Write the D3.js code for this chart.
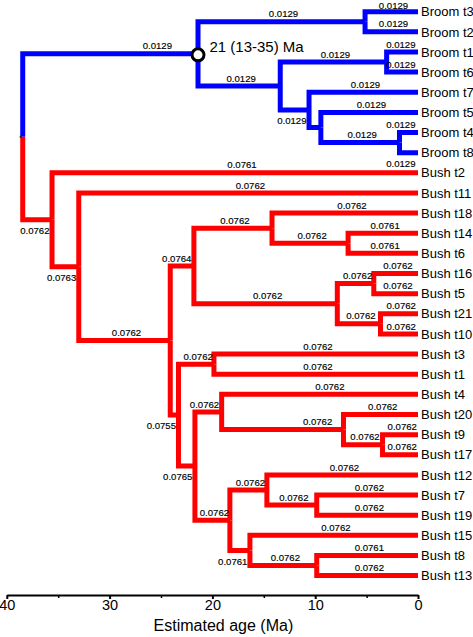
<!DOCTYPE html>
<html>
<head>
<meta charset="utf-8">
<script src="https://cdn.jsdelivr.net/npm/d3@7/dist/d3.min.js"></script>
<style>
  html, body { margin: 0; padding: 0; background: #fff; }
  svg { display: block; font-family: "Liberation Sans", Arial, Helvetica, sans-serif; }
</style>
</head>
<body>
<svg id="chart" width="473" height="637"></svg>
<script>
// ---------------- DATA ----------------
const leafNames = ["Broom t3","Broom t2","Broom t1","Broom t6","Broom t7","Broom t5","Broom t4","Broom t8",
  "Bush t2","Bush t11","Bush t18","Bush t14","Bush t6","Bush t16","Bush t5","Bush t21","Bush t10",
  "Bush t3","Bush t1","Bush t4","Bush t20","Bush t9","Bush t17","Bush t12","Bush t7","Bush t19",
  "Bush t15","Bush t8","Bush t13"];
const leafParents = ["br_t3t2","br_t3t2","br_t1t6","br_t1t6","br_t7x","br_t5x","br_t4t8","br_t4t8",
  "bush","bu_A","bu_C1","bu_C1a","bu_C1a","bu_C2a","bu_C2a","bu_C2b","bu_C2b",
  "bu_D1","bu_D1","bu_E1","bu_E1a","bu_E1b","bu_E1b","bu_E2a","bu_E2a1","bu_E2a1",
  "bu_E2b","bu_E2b1","bu_E2b1"];
const leafRates = ["0.0129","0.0129","0.0129","0.0129","0.0129","0.0129","0.0129","0.0129",
  "0.0761","0.0762","0.0762","0.0761","0.0761","0.0762","0.0762","0.0762","0.0762",
  "0.0762","0.0762","0.0762","0.0762","0.0762","0.0762","0.0762","0.0762","0.0762",
  "0.0762","0.0761","0.0762"];

const nodeIds = ["root","broom","br_t3t2","br_in","br_t1t6","br_t7x","br_t5x","br_t4t8",
  "bush","bu_A","bu_B","bu_C","bu_C1","bu_C1a","bu_C2","bu_C2a","bu_C2b",
  "bu_D","bu_D1","bu_E","bu_E1","bu_E1a","bu_E1b","bu_E2","bu_E2a","bu_E2a1","bu_E2b","bu_E2b1"];
const nodeParents = [null,"root","broom","broom","br_in","br_in","br_t7x","br_t5x",
  "root","bush","bu_A","bu_B","bu_C","bu_C1","bu_C","bu_C2","bu_C2",
  "bu_B","bu_D","bu_D","bu_E","bu_E1","bu_E1a","bu_E","bu_E2","bu_E2a","bu_E2","bu_E2b"];
const nodeAges = [38.45,21.4,5.15,13.4,3.05,10.6,9.45,1.8,
  35.6,33.0,24.1,21.8,14.2,6.8,7.85,4.3,3.65,
  23.3,19.85,21.7,19.1,7.25,3.45,18.3,14.7,9.85,16.35,9.85];
const nodeRates = [null,"0.0129","0.0129","0.0129","0.0129","0.0129",null,"0.0129",
  "0.0762","0.0763","0.0762","0.0764","0.0762","0.0762","0.0762","0.0762","0.0762",
  "0.0755","0.0762","0.0765","0.0762","0.0762","0.0762","0.0762","0.0762","0.0762","0.0761","0.0762"];

const cladeRoots = ["broom","bush"];
const cladeColors = ["#0000ff","#ff0000"];
const calibratedNode = "broom";
const calibratedLabel = "21 (13-35) Ma";

const axisMajor = [40,30,20,10,0];
const axisMinor = [35,25,15,5];
const axisTitle = "Estimated age (Ma)";

// label placement style (not data)
const labelsBelow = new Set(["br_t7x","Broom t8","bush","bu_A","bu_D","bu_E","bu_E2b"]);
const labelNudge = {"broom": 45, "bu_E1a": 33, "Bush t4": 8, "Bush t2": 5, "Bush t18": 5};

// ---------------- BUILD TREE ----------------
const nodes = new Map();
nodeIds.forEach((id, i) => nodes.set(id, {id, parent: nodeParents[i], age: nodeAges[i], rate: nodeRates[i], children: [], leaf: false}));
leafNames.forEach((id, i) => nodes.set(id, {id, parent: leafParents[i], age: 0, rate: leafRates[i], children: [], leaf: true, index: i}));
nodes.forEach(n => { if (n.parent) nodes.get(n.parent).children.push(n); });

const x = d3.scaleLinear().domain([40, 0]).range([6.8, 418]);
const y = d3.scaleLinear().domain([0, leafNames.length - 1]).range([11.7, 575.6]);

function computeY(n) {
  if (n.leaf) { n.y = y(n.index); return n.y; }
  const ys = n.children.map(computeY);
  n.y = (d3.min(ys) + d3.max(ys)) / 2;
  return n.y;
}
const root = nodes.get("root");
computeY(root);

function cladeColor(n) {
  let c = n;
  while (c.parent && c.parent !== "root") c = nodes.get(c.parent);
  const k = cladeRoots.indexOf(c.id);
  return k >= 0 ? cladeColors[k] : "#000";
}

const svg = d3.select("#chart");
const branches = [...nodes.values()].filter(n => n.parent);

// branches (elbows)
svg.append("g").selectAll("path").data(branches).join("path")
  .attr("d", n => {
    const p = nodes.get(n.parent);
    return `M${x(p.age)},${p.y}V${n.y}H${x(n.age)}`;
  })
  .attr("fill", "none")
  .attr("stroke", n => cladeColor(n))
  .attr("stroke-width", 5)
  .attr("stroke-linejoin", "miter")
  .attr("stroke-linecap", "butt");

// small root mark
svg.append("rect").attr("x", x(root.age) - 3).attr("y", root.y - 1).attr("width", 2).attr("height", 2).attr("fill", "#222");

// rate labels
const labelW = 30;
svg.append("g").selectAll("text").data(branches.filter(n => n.rate)).join("text")
  .each(function(n) {
    const p = nodes.get(n.parent);
    const x0 = x(p.age), x1 = x(n.age);
    const below = labelsBelow.has(n.id);
    const t = d3.select(this);
    if (x1 - x0 < labelW + 4) {
      t.attr("x", x1 - 2.5).attr("text-anchor", "end");
    } else {
      t.attr("x", (x0 + x1) / 2 + 2 + (labelNudge[n.id] || 0)).attr("text-anchor", "middle");
    }
    t.attr("y", below ? n.y + 14.3 : Math.max(9, n.y - 4.4));
  })
  .attr("font-size", "9.6px")
  .attr("fill", "#000")
  .attr("stroke", "#000")
  .attr("stroke-width", 0.15)
  .text(n => n.rate);

// leaf labels
svg.append("g").selectAll("text").data(branches.filter(n => n.leaf)).join("text")
  .attr("x", n => x(0) + 3)
  .attr("y", n => n.y)
  .attr("dy", "0.36em")
  .attr("font-size", "13px")
  .attr("fill", "#000")
  .text(n => n.id);

// calibrated node
const cn = nodes.get(calibratedNode);
svg.append("circle").attr("cx", x(cn.age)).attr("cy", cn.y + 1).attr("r", 6)
  .attr("fill", "#fff").attr("stroke", "#000").attr("stroke-width", 3);
svg.append("text").attr("x", x(cn.age) + 11.5).attr("y", cn.y - 2)
  .attr("font-size", "15px").attr("fill", "#000").text(calibratedLabel);

// axis
const axisY = 595;
const gMinor = svg.append("g").attr("transform", `translate(0,${axisY})`)
  .call(d3.axisBottom(x).tickValues(axisMinor).tickSize(3).tickSizeOuter(0).tickFormat(""));
gMinor.select(".domain").remove();
gMinor.selectAll("line").attr("stroke", "#000").attr("stroke-width", 1.5);

const gAxis = svg.append("g").attr("transform", `translate(0,${axisY})`)
  .call(d3.axisBottom(x).tickValues(axisMajor).tickSize(4).tickSizeOuter(0).tickPadding(1).tickFormat(d3.format("d")));
gAxis.select(".domain").attr("stroke", "#000").attr("stroke-width", 2.2);
gAxis.selectAll("line").attr("stroke", "#000").attr("stroke-width", 2);
gAxis.selectAll("text").attr("font-size", "14.5px").attr("fill", "#000")
  .attr("font-family", "'Liberation Sans', Arial, Helvetica, sans-serif");

svg.append("text").attr("x", (x(40) + x(0)) / 2 + 11).attr("y", 631)
  .attr("text-anchor", "middle").attr("font-size", "16px").attr("fill", "#000").text(axisTitle);
</script>
</body>
</html>
